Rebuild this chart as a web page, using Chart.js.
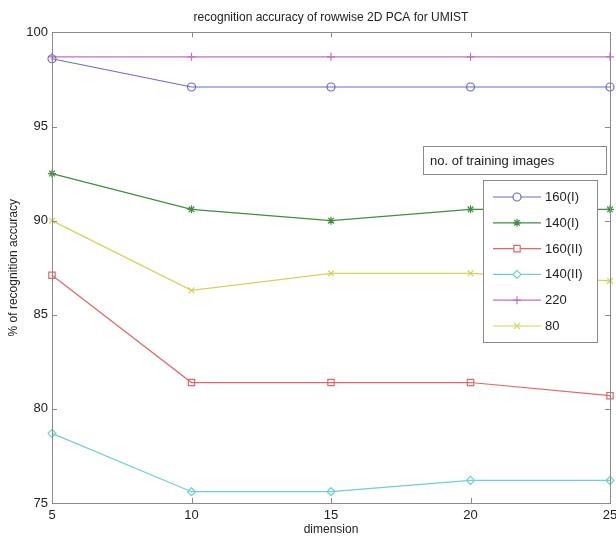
<!DOCTYPE html>
<html>
<head>
<meta charset="utf-8">
<title>recognition accuracy of rowwise 2D PCA for UMIST</title>
<script src="https://cdn.jsdelivr.net/npm/chart.js@4/dist/chart.umd.min.js"></script>
<style>
  html, body { margin: 0; padding: 0; background: #fff; }
  #wrap { width: 616px; height: 541px; }
</style>
</head>
<body>
<div id="wrap"><canvas id="accChart" width="616" height="541"></canvas></div>
<script>
// dimension on the x axis
var dims = [5, 10, 15, 20, 25];
var yTicks = [75, 80, 85, 90, 95, 100];

// recognition accuracy (%) per number of training images
var acc160I  = [98.6, 97.1, 97.1, 97.1, 97.1];
var acc140I  = [92.5, 90.6, 90.0, 90.6, 90.6];
var acc160II = [87.1, 81.4, 81.4, 81.4, 80.7];
var acc140II = [78.7, 75.6, 75.6, 76.2, 76.2];
var acc220   = [98.7, 98.7, 98.7, 98.7, 98.7];
var acc80    = [90.0, 86.3, 87.2, 87.2, 86.8];

var seriesNames = ['160(I)', '140(I)', '160(II)', '140(II)', '220', '80'];
var seriesData = [acc160I, acc140I, acc160II, acc140II, acc220, acc80];
var seriesColors = ['#6a6ad2', '#3f8f3f', '#dd6a6a', '#72cfcf', '#c46ec4', '#d3d35a'];
var seriesMarkers = ['circle', 'star', 'rect', 'rectRot', 'cross', 'crossRot'];

var FONT = '"Liberation Sans", Arial, Helvetica, sans-serif';
var FRAME = '#8a8a8a';

function toPoints(values) {
    return values.map(function (v, i) { return { x: dims[i], y: v }; });
}

var datasets = seriesData.map(function (values, i) {
    return {
        label: seriesNames[i],
        data: toPoints(values),
        borderColor: seriesColors[i],
        backgroundColor: 'rgba(0,0,0,0)',
        borderWidth: 1.2,
        pointStyle: seriesMarkers[i],
        pointRadius: seriesMarkers[i] === 'rect' ? 4.5 : 4,
        pointBorderWidth: 1.2,
        pointBorderColor: seriesColors[i],
        pointBackgroundColor: 'rgba(0,0,0,0)',
        tension: 0,
        fill: false,
        clip: false
    };
});

// box around the plot plus inward tick marks on all four sides
var frameTicks = {
    id: 'frameTicks',
    afterDatasetsDraw: function (chart) {
        var ctx = chart.ctx, a = chart.chartArea;
        var xs = chart.scales.x, ys = chart.scales.y;
        ctx.save();
        ctx.strokeStyle = FRAME;
        ctx.lineWidth = 1;
        ctx.strokeRect(Math.round(a.left) + 0.5, Math.round(a.top) + 0.5,
            Math.round(a.right - a.left), Math.round(a.bottom - a.top));
        ctx.beginPath();
        dims.forEach(function (d) {
            var px = Math.round(xs.getPixelForValue(d)) + 0.5;
            ctx.moveTo(px, a.bottom); ctx.lineTo(px, a.bottom - 5);
            ctx.moveTo(px, a.top); ctx.lineTo(px, a.top + 5);
        });
        yTicks.forEach(function (t) {
            var py = Math.round(ys.getPixelForValue(t)) + 0.5;
            ctx.moveTo(a.left, py); ctx.lineTo(a.left + 5, py);
            ctx.moveTo(a.right, py); ctx.lineTo(a.right - 5, py);
        });
        ctx.stroke();
        ctx.restore();
    }
};

// legend: a heading box and a boxed list of line samples inside the plot
var boxedLegend = {
    id: 'boxedLegend',
    afterDraw: function (chart) {
        var ctx = chart.ctx;
        ctx.save();
        ctx.lineWidth = 1;
        ctx.strokeStyle = FRAME;
        ctx.fillStyle = '#fff';
        ctx.fillRect(423.5, 146.5, 183, 28);
        ctx.strokeRect(423.5, 146.5, 183, 28);
        ctx.fillRect(483.5, 180.5, 114, 162);
        ctx.strokeRect(483.5, 180.5, 114, 162);

        ctx.font = '13px ' + FONT;
        ctx.textBaseline = 'middle';
        ctx.textAlign = 'left';
        ctx.fillStyle = '#222';
        ctx.fillText('no. of training images', 430, 161);

        chart.data.datasets.forEach(function (ds, i) {
            var y = 197 + i * 25.8;
            ctx.strokeStyle = ds.borderColor;
            ctx.lineWidth = 1.2;
            ctx.beginPath();
            ctx.moveTo(493, y); ctx.lineTo(541, y);
            ctx.stroke();
            if (Chart.helpers && Chart.helpers.drawPoint) {
                // hollow marker on a white patch, same as the plotted points
                ctx.fillStyle = '#fff';
                Chart.helpers.drawPoint(ctx, {
                    pointStyle: ds.pointStyle,
                    radius: ds.pointRadius,
                    borderWidth: ds.pointBorderWidth,
                    rotation: 0
                }, 517, y);
            }
            ctx.fillStyle = '#222';
            ctx.fillText(ds.label, 545, y + 0.5);
        });
        ctx.restore();
    }
};

var ctx = document.getElementById('accChart').getContext('2d');
var accChart = new Chart(ctx, {
    type: 'line',
    data: { datasets: datasets },
    options: {
        responsive: false,
        animation: false,
        events: [],
        layout: { padding: { left: 0, right: 6, top: 0, bottom: 0 } },
        plugins: {
            legend: { display: false },
            tooltip: { enabled: false },
            title: {
                display: true,
                fullSize: false,
                text: 'recognition accuracy of rowwise 2D PCA for UMIST',
                color: '#222',
                font: { family: FONT, size: 12, weight: 'normal' },
                padding: { top: 10, bottom: 8 }
            }
        },
        scales: {
            x: {
                type: 'linear',
                min: 5,
                max: 25,
                afterBuildTicks: function (scale) {
                    scale.ticks = dims.map(function (d) { return { value: d }; });
                },
                afterFit: function (scale) {
                    scale.height = 38;
                    scale.paddingLeft = 0;
                    scale.paddingRight = 0;
                },
                grid: { display: false, drawTicks: false },
                border: { display: false },
                ticks: {
                    color: '#222',
                    padding: 5,
                    maxRotation: 0,
                    font: { family: FONT, size: 13 }
                },
                title: {
                    display: true,
                    text: 'dimension',
                    color: '#222',
                    font: { family: FONT, size: 12 },
                    padding: { top: 0, bottom: 4 }
                }
            },
            y: {
                type: 'linear',
                min: 75,
                max: 100,
                afterBuildTicks: function (scale) {
                    scale.ticks = yTicks.map(function (t) { return { value: t }; });
                },
                afterFit: function (scale) {
                    scale.width = 52;
                    scale.paddingTop = 0;
                    scale.paddingBottom = 0;
                },
                grid: { display: false, drawTicks: false },
                border: { display: false },
                ticks: {
                    color: '#222',
                    padding: 4,
                    font: { family: FONT, size: 13 }
                },
                title: {
                    display: true,
                    text: '% of recognition accuracy',
                    color: '#222',
                    font: { family: FONT, size: 12 },
                    padding: { top: 6, bottom: 0 }
                }
            }
        }
    },
    plugins: [frameTicks, boxedLegend]
});
</script>
</body>
</html>
